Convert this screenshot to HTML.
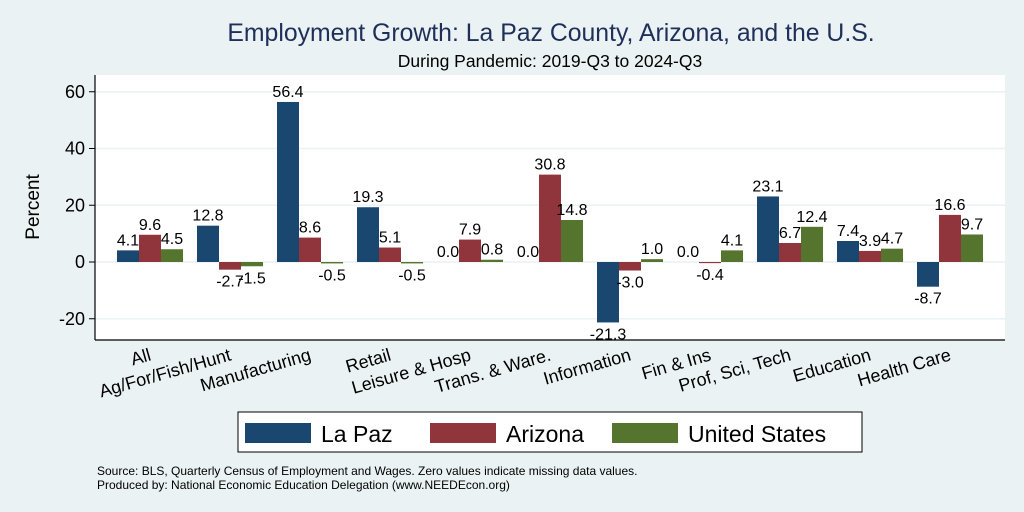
<!DOCTYPE html>
<html><head><meta charset="utf-8"><style>
body{margin:0;background:#eaf2f3;}
svg{display:block;font-family:"Liberation Sans",sans-serif;}
</style></head><body>
<svg width="1024" height="512" viewBox="0 0 1024 512">
<rect x="0" y="0" width="1024" height="512" fill="#eaf2f3"/>
<text x="551" y="41" text-anchor="middle" font-size="24.8" fill="#1f2f5a">Employment Growth: La Paz County, Arizona, and the U.S.</text>
<text x="550" y="67" text-anchor="middle" font-size="17.5" fill="#000">During Pandemic: 2019-Q3 to 2024-Q3</text>
<rect x="95" y="75" width="910" height="265" fill="#fff"/>
<g id="grid"></g>
<g id="bars"></g>
<g id="labels"></g>
<line x1="95" y1="75" x2="95" y2="340" stroke="#000" stroke-width="1.2"/>
<line x1="95" y1="340" x2="1005" y2="340" stroke="#000" stroke-width="1.2"/>
<g id="yticks"></g>
<text transform="translate(39,207) rotate(-90)" text-anchor="middle" font-size="19">Percent</text>
<g id="xlabels"></g>
<g>
<rect x="238" y="412" width="624" height="40" fill="#fff" stroke="#000" stroke-width="1"/>
<rect x="245" y="423" width="66" height="20" fill="#1a476f"/>
<text x="321" y="442" font-size="23">La Paz</text>
<rect x="430" y="423" width="66" height="20" fill="#90353b"/>
<text x="506" y="442" font-size="23">Arizona</text>
<rect x="612" y="423" width="66" height="20" fill="#55752f"/>
<text x="688" y="442" font-size="23">United States</text>
</g>
<text x="97" y="475" font-size="12">Source: BLS, Quarterly Census of Employment and Wages. Zero values indicate missing data values.</text>
<text x="97" y="489" font-size="12">Produced by: National Economic Education Delegation (www.NEEDEcon.org)</text>
</svg>
<script>
const categories=["All","Ag/For/Fish/Hunt","Manufacturing","Retail","Leisure & Hosp","Trans. & Ware.","Information","Fin & Ins","Prof, Sci, Tech","Education","Health Care"];
const laPaz=[4.1,12.8,56.4,19.3,0.0,0.0,-21.3,0.0,23.1,7.4,-8.7];
const arizona=[9.6,-2.7,8.6,5.1,7.9,30.8,-3.0,-0.4,6.7,3.9,16.6];
const unitedStates=[4.5,-1.5,-0.5,-0.5,0.8,14.8,1.0,4.1,12.4,4.7,9.7];
const yTicks=[-20,0,20,40,60];
const NS="http://www.w3.org/2000/svg";
const y0=262, k=56.75/20;
function yS(v){return y0-v*k;}
function xS(i,s){return 117+80*i+22*s;}
function mk(tag,attrs,parent){const e=document.createElementNS(NS,tag);for(const a in attrs)e.setAttribute(a,attrs[a]);document.getElementById(parent).appendChild(e);return e;}
yTicks.forEach(t=>{
  const g=mk('line',{x1:95,x2:1005,y1:yS(t),y2:yS(t),stroke:'#eaf2f3','stroke-width':1.5},'grid');
  
  
  const tk=mk('line',{x1:89,x2:95,y1:yS(t),y2:yS(t),stroke:'#000'},'yticks');
  
  
  const tl=mk('text',{x:85,y:yS(t)+6,'text-anchor':'end','font-size':18},'yticks');
  tl.textContent=t;
  
  
});
const series=[[laPaz,'#1a476f','la-paz'],[arizona,'#90353b','arizona'],[unitedStates,'#55752f','us']];
categories.forEach((c,i)=>{
  series.forEach(([arr,col,nm],s)=>{
    const v=arr[i];const x=xS(i,s);
    const top=Math.min(yS(v),y0),h=Math.abs(yS(v)-y0);
    const r=mk('rect',{x:x,y:top,width:22,height:h,fill:col},'bars');
    
    
    const ly=v>=0?yS(v)-5:yS(v)+17;
    const t=mk('text',{x:x+11,y:ly,'text-anchor':'middle','font-size':16},'labels');
    t.textContent=v.toFixed(1);
    
    
  });
  const cx=117+80*i+35;
  const xl=mk('text',{transform:`translate(${cx},360) rotate(-16)`,'text-anchor':'end','font-size':18},'xlabels');
  xl.textContent=c;
  
  
});
</script>
</body></html>
